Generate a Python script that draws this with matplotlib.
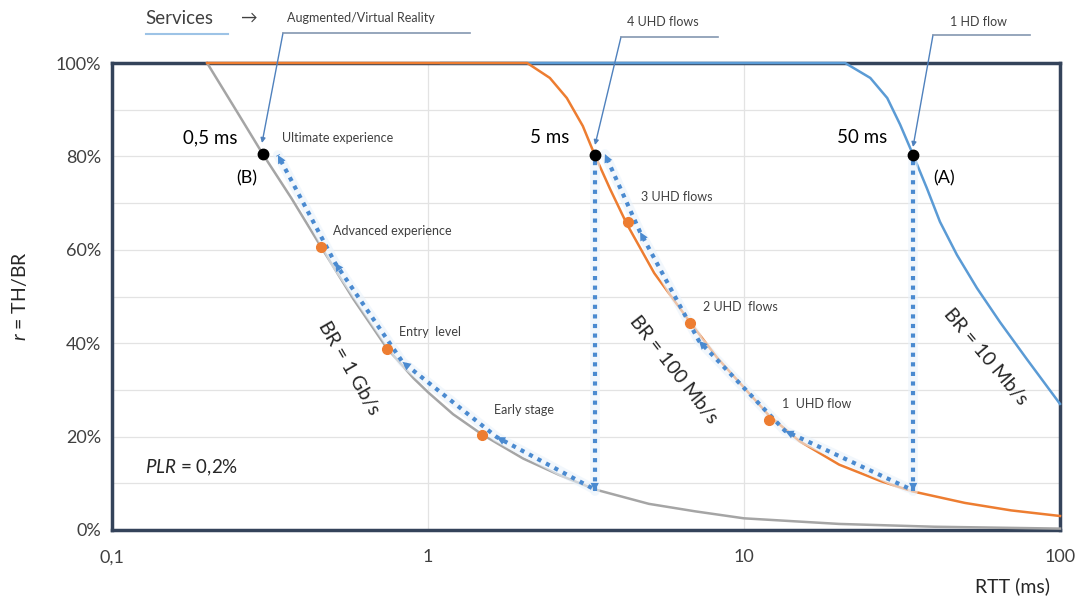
import matplotlib.pyplot as plt
from matplotlib.ticker import FuncFormatter

plt.rcParams['font.family'] = ['Lato', 'DejaVu Sans']
plt.rcParams['mathtext.fontset'] = 'custom'
plt.rcParams['mathtext.it'] = 'Lato:italic'
plt.rcParams['mathtext.rm'] = 'Lato'

# r = TH/BR (%) versus RTT (ms)
gray_rtt = [0.2, 0.25, 0.3, 0.37, 0.46, 0.58, 0.74, 0.9, 1.0, 1.2, 1.48, 2.0, 2.6,
            3.37, 5.0, 7.0, 10, 20, 40, 100]
gray_r = [100, 89.3, 80.5, 71, 60.5, 49.5, 39, 32.5, 29.5, 24.8, 20.5, 15.3, 11.8,
          8.7, 5.6, 4, 2.5, 1.3, 0.7, 0.3]

orange_rtt = [0.2, 2.06, 2.43, 2.75, 3.09, 3.37, 3.77, 4.26, 5.2, 6.75, 8.2, 10, 12,
              15, 20, 27, 34, 50, 70, 100]
orange_r = [100, 100, 96.8, 92.5, 86.5, 80.3, 73, 65.5, 55, 44.5, 37, 30.5, 24.5,
            19, 14, 10.5, 8.3, 5.8, 4.2, 3.0]

blue_rtt = [1.1, 20.9, 25.1, 28.4, 31.2, 34.3, 37.9, 41.7, 47.2, 54.6, 64.6, 78.7, 100]
blue_r = [100, 100, 96.8, 92.5, 86.8, 80.3, 73.2, 66, 58.9, 51.8, 44.5, 36.5, 27]

# services along the curves
gray_service_rtt = [0.46, 0.74, 1.48]
gray_service_r = [60.5, 38.8, 20.3]
gray_service_labels = ['Advanced experience', 'Entry  level', 'Early stage']
orange_service_rtt = [4.3, 6.75, 12.0]
orange_service_r = [66.0, 44.3, 23.5]
orange_service_labels = ['3 UHD flows', '2 UHD  flows', '1  UHD flow']

# operating points (B), 5 ms, (A)
key_rtt = [0.3, 3.37, 34.3]
key_r = [80.5, 80.3, 80.3]
key_labels = ['0,5 ms', '5 ms', '50 ms']

# dotted upgrade paths (guides drawn next to the curves)
gray_path_rtt = [3.3, 1.65, 0.83, 0.508, 0.335]
gray_path_r = [9.0, 19.9, 36.0, 57.2, 80.3]
orange_path_rtt = [33, 13.5, 7.2, 4.69, 3.63]
orange_path_r = [9.0, 21.2, 40.5, 63.8, 80.5]
drop_rtt = [3.37, 34.3]
drop_top = 79
drop_bottom = 8.3

c_gray = '#a5a5a5'
c_orange = '#ed7d31'
c_blue = '#5b9bd5'
c_arrow = '#4a8ad0'
c_frame = '#34435a'
c_text = '#404040'

fig = plt.figure(figsize=(10.85, 6.08), dpi=100)
ax = fig.add_axes([112 / 1085, 1 - 530 / 608, 948 / 1085, 467 / 608])

ax.set_xscale('log')
ax.set_xlim(0.1, 100)
ax.set_ylim(0, 100)

ax.set_yticks([0, 20, 40, 60, 80, 100])
ax.set_yticks([10, 30, 50, 70, 90], minor=True)
ax.set_xticks([0.1, 1, 10, 100])
ax.xaxis.set_minor_locator(plt.NullLocator())
ax.yaxis.set_major_formatter(FuncFormatter(lambda v, p: f'{v:.0f}%'))
ax.xaxis.set_major_formatter(FuncFormatter(lambda v, p: f'{v:g}'.replace('.', ',')))
ax.tick_params(which='both', length=0, labelsize=13, colors=c_text, pad=8)
ax.tick_params(axis='x', pad=14)
ax.grid(True, which='both', color='#e3e3e3', lw=0.9)
ax.set_axisbelow(True)
for s in ax.spines.values():
    s.set_color(c_frame)
    s.set_linewidth(2.5)

# curves
ax.plot(gray_rtt, gray_r, color=c_gray, lw=1.8, zorder=3, clip_on=False)
ax.plot(blue_rtt, blue_r, color=c_blue, lw=1.8, zorder=3, clip_on=False)
ax.plot(orange_rtt, orange_r, color=c_orange, lw=1.8, zorder=3, clip_on=False)


def dotted_path(xs, ys):
    ax.plot(xs, ys, color='#eaf3fb', lw=7, alpha=0.6, zorder=3.5, solid_capstyle='round')
    ax.plot(xs, ys, color=c_arrow, lw=3, ls=(0, (1, 1.3)), zorder=4)


def head(tip, tail):
    ax.annotate('', xy=tip, xytext=tail,
                arrowprops=dict(arrowstyle='-|>', color=c_arrow, lw=0,
                                mutation_scale=15, shrinkA=0, shrinkB=0),
                zorder=5)


for xs, ys in [(gray_path_rtt, gray_path_r), (orange_path_rtt, orange_path_r)]:
    dotted_path(xs, ys)
    for i in range(1, len(xs)):
        head((xs[i], ys[i]), (xs[i - 1], ys[i - 1]))

for x in drop_rtt:
    dotted_path([x, x], [drop_top, drop_bottom])
    head((x, drop_bottom), (x, drop_bottom + 3))

# service markers
ax.plot(gray_service_rtt, gray_service_r, 'o', color=c_orange, ms=7, zorder=6)
ax.plot(orange_service_rtt, orange_service_r, 'o', color=c_orange, ms=7, zorder=6)
ax.plot(key_rtt, key_r, 'o', color='black', ms=7.5, zorder=6)

# labels
lbl = dict(fontsize=9, color=c_text, va='center', zorder=7)
for x, y, t in zip(gray_service_rtt, gray_service_r, gray_service_labels):
    ax.text(x * 1.09, y + 3.5 if t != 'Early stage' else y + 5.5, t, **lbl)
for x, y, t in zip(orange_service_rtt, orange_service_r, orange_service_labels):
    ax.text(x * 1.1, y + 5.3 if t == '3 UHD flows' else y + 3.5, t, **lbl)
ax.text(0.345, 84, 'Ultimate experience', **lbl)

for x, t in zip(key_rtt, key_labels):
    ax.text(x * 0.83, 84, t, fontsize=13.5, color='black', ha='right', va='center')
ax.text(0.266, 75.4, '(B)', fontsize=13, color='black', ha='center', va='center')
ax.text(42.9, 75.4, '(A)', fontsize=13, color='black', ha='center', va='center')

br = dict(fontsize=14, color='#262626', ha='center', va='center', rotation_mode='anchor')
ax.text(0.56, 34.7, 'BR = 1 Gb/s', rotation=-60, **br)
ax.text(6.0, 34.3, 'BR = 100 Mb/s', rotation=-52, **br)
ax.text(58, 37, 'BR = 10 Mb/s', rotation=-50, **br)

ax.text(0.127, 13.3, '$PLR$ = 0,2%', fontsize=13.5, color='#262626', va='center')

ax.set_ylabel('$r$ = TH/BR', fontsize=14, color='#262626')
ax.yaxis.set_label_coords(-0.088, 0.5)
fig.text(1050 / 1085, 1 - 586 / 608, 'RTT (ms)', fontsize=14, color='#262626',
         ha='right', va='center')


# top annotations in figure pixels
def fp(px, py):
    return (px / 1085, 1 - py / 608)


fig.text(*fp(145, 18), 'Services', fontsize=13.5, color=c_text, va='center')
fig.text(*fp(240, 18), '→', fontsize=12, color=c_text, va='center')
fig.add_artist(plt.Line2D(*zip(fp(146, 34), fp(228, 34)), color='#9dc3e6', lw=1.5,
                          transform=fig.transFigure))

tops = [('Augmented/Virtual Reality', 287, 18, 283, 470, 33, (262, 143)),
        ('4 UHD flows', 627, 22, 621, 718, 37, (595, 145)),
        ('1 HD flow', 950, 22, 933, 1030, 35, (913, 147))]
for t, tx, ty, u0, u1, uy, end in tops:
    fig.text(*fp(tx, ty), t, fontsize=9, color=c_text, va='center')
    fig.add_artist(plt.Line2D(*zip(fp(u0, uy), fp(u1, uy)), color='#8497b0', lw=1.2,
                              transform=fig.transFigure))
    ax.annotate('', xy=fp(*end), xytext=fp(u0, uy), xycoords='figure fraction',
                textcoords='figure fraction',
                arrowprops=dict(arrowstyle='-|>', color='#4f81bd', lw=1,
                                mutation_scale=7, shrinkA=0, shrinkB=0),
                annotation_clip=False)

fig.savefig('out.png', dpi=100)
